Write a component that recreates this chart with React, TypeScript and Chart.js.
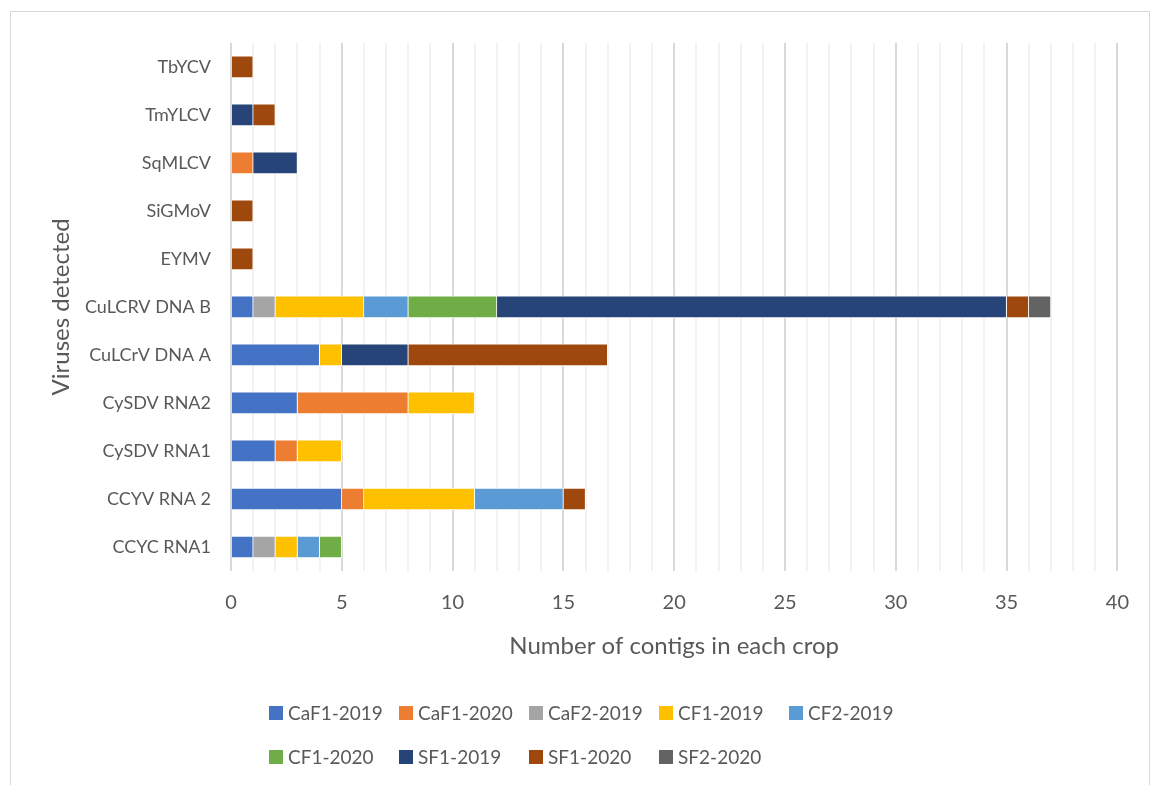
import React, { useEffect, useRef } from 'react';
import { Chart, registerables } from 'chart.js';

Chart.register(...registerables);

// Categories listed bottom-to-top (as in the source spreadsheet)
const categories = [
  'CCYC RNA1',
  'CCYV RNA 2',
  'CySDV RNA1',
  'CySDV RNA2',
  'CuLCrV DNA A',
  'CuLCRV DNA B',
  'EYMV',
  'SiGMoV',
  'SqMLCV',
  'TmYLCV',
  'TbYCV',
];

const seriesNames = [
  'CaF1-2019',
  'CaF1-2020',
  'CaF2-2019',
  'CF1-2019',
  'CF2-2019',
  'CF1-2020',
  'SF1-2019',
  'SF1-2020',
  'SF2-2020',
];

const seriesColors = [
  '#4472C4',
  '#ED7D31',
  '#A5A5A5',
  '#FFC000',
  '#5B9BD5',
  '#70AD47',
  '#264478',
  '#9E480E',
  '#636363',
];

const caF1_2019 = [1, 5, 2, 3, 4, 1, 0, 0, 0, 0, 0];
const caF1_2020 = [0, 1, 1, 5, 0, 0, 0, 0, 1, 0, 0];
const caF2_2019 = [1, 0, 0, 0, 0, 1, 0, 0, 0, 0, 0];
const cf1_2019 = [1, 5, 2, 3, 1, 4, 0, 0, 0, 0, 0];
const cf2_2019 = [1, 4, 0, 0, 0, 2, 0, 0, 0, 0, 0];
const cf1_2020 = [1, 0, 0, 0, 0, 4, 0, 0, 0, 0, 0];
const sf1_2019 = [0, 0, 0, 0, 3, 23, 0, 0, 2, 1, 0];
const sf1_2020 = [0, 1, 0, 0, 9, 1, 1, 1, 0, 1, 1];
const sf2_2020 = [0, 0, 0, 0, 0, 1, 0, 0, 0, 0, 0];

const seriesValues = [
  caF1_2019,
  caF1_2020,
  caF2_2019,
  cf1_2019,
  cf2_2019,
  cf1_2020,
  sf1_2019,
  sf1_2020,
  sf2_2020,
];

const xMin = 0;
const xMax = 40;
const xLabelStep = 5;

const xTitle = 'Number of contigs in each crop';
const yTitle = 'Viruses detected';

const FONT = 'Lato';
const TEXT = '#595959';

// Legend laid out as a grid of equal-width columns (Excel style)
const legendPlugin = {
  id: 'gridLegend',
  afterDraw(chart: any) {
    const ctx = chart.ctx as CanvasRenderingContext2D;
    const size = 19;
    const box = 14;
    const gapBoxText = 5;
    const cols = 5;
    const colW = 130;
    const rowYs = [701, 745];
    ctx.save();
    ctx.font = `${size}px ${FONT}`;
    ctx.textBaseline = 'middle';
    ctx.textAlign = 'left';
    const startX = (chart.width - cols * colW) / 2 + 14;
    chart.data.datasets.forEach((d: any, i: number) => {
      const r = Math.floor(i / cols);
      const c = i % cols;
      const x = startX + c * colW;
      const y = rowYs[r] ?? rowYs[rowYs.length - 1] + 44 * (r - rowYs.length + 1);
      ctx.fillStyle = d.backgroundColor;
      ctx.fillRect(x, y - box / 2, box, box);
      ctx.fillStyle = TEXT;
      ctx.fillText(d.label, x + box + gapBoxText, y + 1);
    });
    ctx.restore();
  },
};

export default function App() {
  const ref = useRef<HTMLCanvasElement | null>(null);

  useEffect(() => {
    if (!ref.current) return;
    Chart.defaults.font.family = FONT;
    Chart.defaults.color = TEXT;
    const chart = new Chart(ref.current, {
      type: 'bar',
      data: {
        labels: categories,
        datasets: seriesNames.map((name, i) => ({
          label: name,
          data: seriesValues[i],
          backgroundColor: seriesColors[i],
          borderColor: '#ffffff',
          borderWidth: 1,
          barThickness: 22,
        })),
      },
      options: {
        indexAxis: 'y',
        animation: false,
        responsive: true,
        maintainAspectRatio: false,
        layout: { padding: { left: 0, right: 28, top: 28, bottom: 125 } },
        plugins: {
          legend: { display: false },
          tooltip: { enabled: false },
        },
        scales: {
          x: {
            stacked: true,
            min: xMin,
            max: xMax,
            border: { display: false },
            grid: {
              drawTicks: false,
              lineWidth: 2,
              color: (c: any) =>
                c.tick && c.tick.value % xLabelStep === 0 ? '#d9d9d9' : '#f2f2f2',
            },
            ticks: {
              stepSize: 1,
              autoSkip: false,
              maxRotation: 0,
              padding: 20,
              font: { size: 20 },
              color: TEXT,
              callback: (v: any) => (Number(v) % xLabelStep === 0 ? String(v) : ''),
            },
            title: {
              display: true,
              text: xTitle,
              font: { size: 24 },
              color: TEXT,
              padding: { top: 10, bottom: 0 },
            },
            afterFit: (s: any) => {
              s.height = 90;
            },
          },
          y: {
            stacked: true,
            reverse: true,
            border: { display: false },
            grid: { display: false, drawTicks: false },
            ticks: {
              padding: 20,
              font: { size: 18 },
              color: TEXT,
            },
            title: {
              display: true,
              text: yTitle,
              font: { size: 24 },
              color: TEXT,
              padding: { top: 36, bottom: 0 },
            },
            afterFit: (s: any) => {
              s.width = 220;
            },
          },
        },
      },
      plugins: [legendPlugin],
    });
    return () => chart.destroy();
  }, []);

  return (
    <div
      style={{
        position: 'absolute',
        left: 10,
        top: 11,
        width: 1140,
        height: 776,
        border: '1px solid #d9d9d9',
        boxSizing: 'border-box',
        background: '#fff',
      }}
    >
      <div style={{ position: 'relative', width: 1138, height: 774 }}>
        <canvas ref={ref} />
      </div>
    </div>
  );
}
